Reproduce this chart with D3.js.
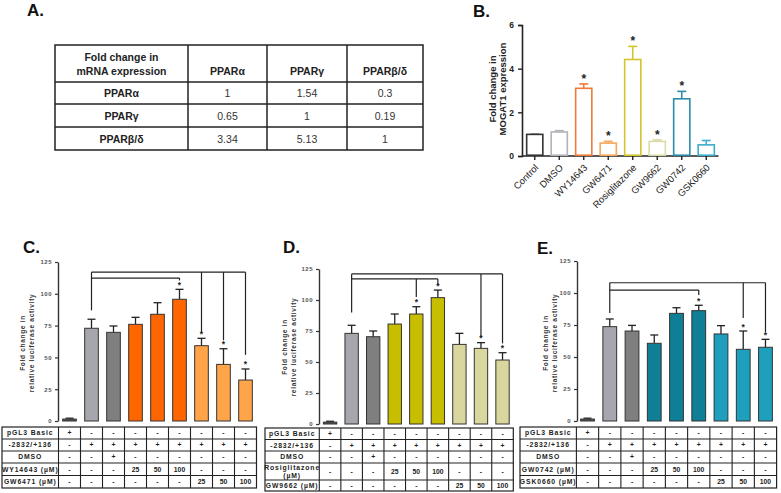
<!DOCTYPE html>
<html><head><meta charset="utf-8">
<script src="https://cdn.jsdelivr.net/npm/d3@7"></script>
<style>
html,body{margin:0;padding:0;background:#fff;}
svg{display:block;font-family:"Liberation Sans",Arial,sans-serif;}
</style></head>
<body><svg id="chart" width="781" height="493"></svg>
<script>
// ---------- Panel A data ----------
const aHeader = ["Fold change in", "mRNA expression"];
const aCols = ["PPARα", "PPARγ", "PPARβ/δ"];
const aRows = ["PPARα", "PPARγ", "PPARβ/δ"];
const aValues = [["1", "1.54", "0.3"], ["0.65", "1", "0.19"], ["3.34", "5.13", "1"]];

// ---------- Panel B data ----------
const bCats = ["Control", "DMSO", "WY14643", "GW6471", "Rosiglitazone", "GW9662", "GW0742", "GSK0660"];
const bMeans = [0.99, 1.1, 3.1, 0.59, 4.42, 0.67, 2.62, 0.51];
const bErrTop = [0.99, 1.16, 3.3, 0.67, 5.02, 0.74, 2.96, 0.71];
const bSig = [false, false, true, true, true, true, true, false];
const bColors = ["#333333", "#b2b2ba", "#f07a36", "#f5a75c", "#d2c52e", "#dcdaa8", "#2a8ca8", "#3aaecb"];
const bTicks = [0, 2, 4, 6];

// ---------- Panels C, D, E data ----------
const lucTicks = [0, 25, 50, 75, 100, 125];
const rowPGL3 = ["+", "-", "-", "-", "-", "-", "-", "-", "-"];
const row2832 = ["-", "+", "+", "+", "+", "+", "+", "+", "+"];
const rowDMSO = ["-", "-", "+", "-", "-", "-", "-", "-", "-"];
const rowAgonist = ["-", "-", "-", "25", "50", "100", "-", "-", "-"];
const rowAntagonist = ["-", "-", "-", "-", "-", "-", "25", "50", "100"];

const cMeans = [1.5, 72.9, 69.7, 76, 83.9, 95.7, 59.2, 44.5, 32.2];
const cErrTop = [2.2, 80, 74.7, 81.5, 93, 103.5, 65, 56.8, 40.9];
const cSig = [false, false, false, false, false, true, true, true, true];
const cLabels = ["pGL3 Basic", "-2832/+136", "DMSO", "WY14643 (µM)", "GW6471 (µM)"];

const dMeans = [1.5, 73.1, 70.4, 80.6, 88.7, 101.9, 64.2, 61, 51.6];
const dErrTop = [2.2, 79.6, 75, 88.7, 94.6, 108, 73.1, 65.6, 57.5];
const dSig = [false, false, false, false, true, true, false, true, true];
const dLabels = ["pGL3 Basic", "-2832/+136", "DMSO", "Rosiglitazone\n(µM)", "GW9662 (µM)"];

const eMeans = [1.5, 73.7, 70.3, 60.7, 84.1, 86.2, 68, 56, 57.6];
const eErrTop = [2.2, 79.7, 74.7, 67.2, 88.5, 90.4, 74.5, 70.3, 63.8];
const eSig = [false, false, false, false, false, true, false, true, true];
const eLabels = ["pGL3 Basic", "-2832/+136", "DMSO", "GW0742 (µM)", "GSK0660 (µM)"];

// brackets: [bar index, drop end value]
const cBrackets = {leftBar: 1, leftEnd: 87, low: 112.4, lowDrops: [[5, 110.5]], high: 117, highDrops: [[6, 70], [7, 63.5], [8, 52]]};
const dBrackets = {leftBar: 1, leftEnd: 90, low: 117, lowDrops: [[4, 102.4], [5, 112]], high: 121, highDrops: [[7, 70], [8, 65]]};
const eBrackets = {leftBar: 1, leftEnd: 84.4, low: 102.3, lowDrops: [[5, 98.4]], high: 108, highDrops: [[7, 80.5], [8, 69.5]]};

const svg = d3.select("#chart");
const FONT = '"Liberation Sans", Arial, sans-serif';

function panelLabel(t, x, y) {
  svg.append("text").attr("x", x).attr("y", y).attr("font-size", 17).attr("font-weight", "bold")
    .attr("fill", "#111").text(t);
}

// ================= Panel A =================
panelLabel("A.", 27, 16);
(function () {
  const colX = [55, 188, 267, 347, 423];
  const rowY = [45, 82, 104, 127, 150];
  const g = svg.append("g");
  g.append("rect").attr("x", colX[0]).attr("y", rowY[0]).attr("width", colX[4] - colX[0])
    .attr("height", rowY[4] - rowY[0]).attr("fill", "none").attr("stroke", "#222").attr("stroke-width", 1.5);
  colX.slice(1, 4).forEach(x => g.append("line").attr("x1", x).attr("x2", x).attr("y1", rowY[0]).attr("y2", rowY[4])
    .attr("stroke", "#222").attr("stroke-width", 1.5));
  rowY.slice(1, 4).forEach(y => g.append("line").attr("x1", colX[0]).attr("x2", colX[4]).attr("y1", y).attr("y2", y)
    .attr("stroke", "#222").attr("stroke-width", 1.5));
  const cx = i => (colX[i] + colX[i + 1]) / 2;
  const cy = j => (rowY[j] + rowY[j + 1]) / 2 + 4;
  g.append("text").attr("x", cx(0)).attr("y", 61).attr("text-anchor", "middle").attr("font-size", 10.5)
    .attr("font-weight", "bold").attr("fill", "#222").text(aHeader[0]);
  g.append("text").attr("x", cx(0)).attr("y", 75).attr("text-anchor", "middle").attr("font-size", 10.5)
    .attr("font-weight", "bold").attr("fill", "#222").text(aHeader[1]);
  aCols.forEach((c, i) => g.append("text").attr("x", cx(i + 1)).attr("y", 75).attr("text-anchor", "middle")
    .attr("font-size", 10.5).attr("font-weight", "bold").attr("fill", "#222").text(c));
  aRows.forEach((r, j) => {
    g.append("text").attr("x", cx(0)).attr("y", cy(j + 1)).attr("text-anchor", "middle")
      .attr("font-size", 10.5).attr("font-weight", "bold").attr("fill", "#222").text(r);
    aValues[j].forEach((v, i) => g.append("text").attr("x", cx(i + 1)).attr("y", cy(j + 1))
      .attr("text-anchor", "middle").attr("font-size", 10.5).attr("fill", "#333").text(v));
  });
})();

// ================= Panel B =================
panelLabel("B.", 473, 17);
(function () {
  const x = d3.scaleBand().domain(bCats).range([522.5, 718.5]).paddingInner(0.34).paddingOuter(0.17);
  const y = d3.scaleLinear().domain([0, 6]).range([156, 25]);
  const g = svg.append("g");
  const yAx = g.append("g").attr("transform", "translate(522,0)")
    .call(d3.axisLeft(y).tickValues(bTicks).tickSize(4).tickFormat(d3.format("d")));
  yAx.select(".domain").attr("stroke", "#222").attr("stroke-width", 1.6);
  yAx.selectAll(".tick line").attr("stroke", "#222").attr("stroke-width", 1.4);
  yAx.selectAll("text").attr("font-size", 8.5).attr("font-weight", "bold").attr("fill", "#222")
    .attr("font-family", FONT).attr("dx", -1);
  const xAx = g.append("g").attr("transform", "translate(0,156)")
    .call(d3.axisBottom(x).tickSize(4).tickSizeOuter(0));
  xAx.select(".domain").attr("stroke", "#222").attr("stroke-width", 1.6).attr("d", "M522,0H718.5");
  xAx.selectAll(".tick line").attr("stroke", "#222").attr("stroke-width", 1.4);
  xAx.selectAll("text").attr("font-size", 9.5).attr("fill", "#222").attr("font-family", FONT)
    .attr("text-anchor", "end").attr("x", 0).attr("y", 0).attr("dy", "0.35em")
    .attr("transform", "translate(2,10) rotate(-45)");

  bCats.forEach((c, i) => {
    const bx = x(c), bw = x.bandwidth(), col = bColors[i];
    const cxp = bx + bw / 2;
    g.append("line").attr("x1", cxp).attr("x2", cxp).attr("y1", y(bMeans[i])).attr("y2", y(bErrTop[i]))
      .attr("stroke", col).attr("stroke-width", 1.6);
    g.append("line").attr("x1", cxp - 4.5).attr("x2", cxp + 4.5).attr("y1", y(bErrTop[i])).attr("y2", y(bErrTop[i]))
      .attr("stroke", col).attr("stroke-width", 1.6);
    g.append("rect").attr("x", bx).attr("y", y(bMeans[i])).attr("width", bw)
      .attr("height", y(0) - y(bMeans[i]) - 0.8).attr("fill", "#fff").attr("stroke", col).attr("stroke-width", 1.6);
    if (bSig[i]) g.append("text").attr("x", cxp).attr("y", y(bErrTop[i]) - 1).attr("text-anchor", "middle")
      .attr("font-size", 12).attr("font-weight", "bold").attr("fill", "#222").text("*");
  });
  const yl = g.append("text").attr("transform", "translate(496,89) rotate(-90)").attr("text-anchor", "middle")
    .attr("font-size", 9.5).attr("font-weight", "bold").attr("fill", "#222");
  yl.append("tspan").attr("x", 0).attr("y", 0).text("Fold change in");
  yl.append("tspan").attr("x", 0).attr("y", 10).text("MOGAT1 expression");
})();

// ================= Panels C, D, E =================
function lucPanel(cfg) {
  const idx = d3.range(cfg.means.length);
  const x = d3.scaleBand().domain(idx).range(cfg.xr).paddingInner(0.38).paddingOuter(0.19);
  const y = d3.scaleLinear().domain([0, 125]).range(cfg.yr);
  const g = svg.append("g");
  panelLabel(cfg.label, cfg.labelX, cfg.labelY);
  const yAx = g.append("g").attr("transform", `translate(${cfg.axisX},0)`)
    .call(d3.axisLeft(y).tickValues(lucTicks).tickSize(3).tickSizeOuter(0));
  yAx.select(".domain").attr("stroke", "#333").attr("stroke-width", 1.4);
  yAx.selectAll(".tick line").attr("stroke", "#333").attr("stroke-width", 1.2);
  yAx.selectAll("text").attr("font-size", 6).attr("font-weight", "bold").attr("fill", "#555")
    .attr("font-family", FONT).attr("letter-spacing", 0.5);

  const cxp = i => x(i) + x.bandwidth() / 2;
  idx.forEach(i => {
    g.append("line").attr("x1", cxp(i)).attr("x2", cxp(i)).attr("y1", y(cfg.means[i])).attr("y2", y(cfg.err[i]))
      .attr("stroke", "#222").attr("stroke-width", 1.3);
    g.append("line").attr("x1", cxp(i) - 4).attr("x2", cxp(i) + 4).attr("y1", y(cfg.err[i])).attr("y2", y(cfg.err[i]))
      .attr("stroke", "#222").attr("stroke-width", 1.3);
    g.append("rect").attr("x", x(i)).attr("y", y(cfg.means[i])).attr("width", x.bandwidth())
      .attr("height", y(0) - y(cfg.means[i])).attr("fill", cfg.colors[i]).attr("stroke", "#333").attr("stroke-width", 1);
    if (cfg.sig[i]) g.append("text").attr("x", cxp(i)).attr("y", y(cfg.err[i]) - 1.5).attr("text-anchor", "middle")
      .attr("font-size", 8.5).attr("font-weight", "bold").attr("fill", "#222").text("*");
  });

  // brackets
  const br = cfg.brackets;
  const lx = cxp(br.leftBar);
  const ln = (x1, y1, x2, y2) => g.append("line").attr("x1", x1).attr("y1", y1).attr("x2", x2).attr("y2", y2)
    .attr("stroke", "#222").attr("stroke-width", 1.2);
  const lowLast = br.lowDrops[br.lowDrops.length - 1][0];
  const highLast = br.highDrops[br.highDrops.length - 1][0];
  ln(lx, y(br.high), lx, y(br.leftEnd));
  ln(lx, y(br.high), cxp(highLast), y(br.high));
  ln(lx, y(br.low), cxp(lowLast), y(br.low));
  br.lowDrops.forEach(([b, e]) => ln(cxp(b), y(br.low), cxp(b), y(e)));
  br.highDrops.forEach(([b, e]) => ln(cxp(b), y(br.high), cxp(b), y(e)));

  // y label
  const yl = g.append("text").attr("transform", `translate(${cfg.ylabX},${cfg.ylabY}) rotate(-90)`)
    .attr("text-anchor", "middle").attr("font-size", 6.5).attr("font-weight", "bold").attr("fill", "#333")
    .attr("letter-spacing", 0.7);
  yl.append("tspan").attr("x", 0).attr("y", 0).text("Fold change in");
  yl.append("tspan").attr("x", 0).attr("y", 9).text("relative luciferase activity");

  // table
  const rows = [rowPGL3, row2832, rowDMSO, rowAgonist, rowAntagonist];
  const step = x.step();
  const colB = [cfg.tableLeft].concat(idx.map(i => cxp(i) - step / 2)).concat([cxp(idx.length - 1) + step / 2]);
  const ry = cfg.tableRows;
  const t = g.append("g");
  t.append("rect").attr("x", colB[0]).attr("y", ry[0]).attr("width", colB[colB.length - 1] - colB[0])
    .attr("height", ry[ry.length - 1] - ry[0]).attr("fill", "none").attr("stroke", "#222").attr("stroke-width", 1.2);
  colB.slice(1, -1).forEach(xx => t.append("line").attr("x1", xx).attr("x2", xx).attr("y1", ry[0]).attr("y2", ry[ry.length - 1])
    .attr("stroke", "#222").attr("stroke-width", 1.1));
  ry.slice(1, -1).forEach(yy => t.append("line").attr("x1", colB[0]).attr("x2", colB[colB.length - 1]).attr("y1", yy).attr("y2", yy)
    .attr("stroke", "#222").attr("stroke-width", 1.1));
  rows.forEach((r, j) => {
    const midY = (ry[j] + ry[j + 1]) / 2;
    const lbl = cfg.rowLabels[j].split("\n");
    const lt = t.append("text").attr("x", (colB[0] + colB[1]) / 2).attr("text-anchor", "middle")
      .attr("font-size", 6.8).attr("font-weight", "bold").attr("fill", "#222").attr("letter-spacing", 0.9);
    if (lbl.length === 1) lt.attr("y", midY + 2.4).text(lbl[0]);
    else lbl.forEach((s, k) => lt.append("tspan").attr("x", (colB[0] + colB[1]) / 2)
      .attr("y", midY - 2 + k * 8).text(s));
    r.forEach((v, i) => t.append("text").attr("x", cxp(i)).attr("y", midY + 2.4).attr("text-anchor", "middle")
      .attr("font-size", 6.8).attr("font-weight", "bold").attr("fill", "#222").text(v));
  });
}

const grayA = "#a6a6ae", grayB = "#7f7f7f", base = "#555";
lucPanel({
  label: "C.", labelX: 23, labelY: 253, axisX: 58, xr: [58.5, 256.5], yr: [421, 262],
  means: cMeans, err: cErrTop, sig: cSig, brackets: cBrackets,
  colors: [base, grayA, grayB, "#ff6600", "#ff6600", "#ff6600", "#ffa448", "#ffa448", "#ffa448"],
  ylabX: 25, ylabY: 343, rowLabels: cLabels, tableLeft: 2, tableRows: [427, 439, 451, 463, 475.5, 488]
});
lucPanel({
  label: "D.", labelX: 283, labelY: 253, axisX: 319, xr: [319.3, 513.3], yr: [424, 269],
  means: dMeans, err: dErrTop, sig: dSig, brackets: dBrackets,
  colors: [base, grayA, grayB, "#c8be00", "#c8be00", "#c8be00", "#d9d79e", "#d9d79e", "#d9d79e"],
  ylabX: 287, ylabY: 347, rowLabels: dLabels, tableLeft: 265, tableRows: [428, 439.5, 451, 463, 480, 491]
});
lucPanel({
  label: "E.", labelX: 537, labelY: 254, axisX: 577, xr: [576.4, 776.6], yr: [421, 261],
  means: eMeans, err: eErrTop, sig: eSig, brackets: eBrackets,
  colors: [base, grayA, grayB, "#0e7f96", "#0e7f96", "#0e7f96", "#1f9fbe", "#1f9fbe", "#1f9fbe"],
  ylabX: 548, ylabY: 343, rowLabels: eLabels, tableLeft: 520, tableRows: [427, 439, 451, 463, 475.5, 488]
});
</script>
</body></html>
